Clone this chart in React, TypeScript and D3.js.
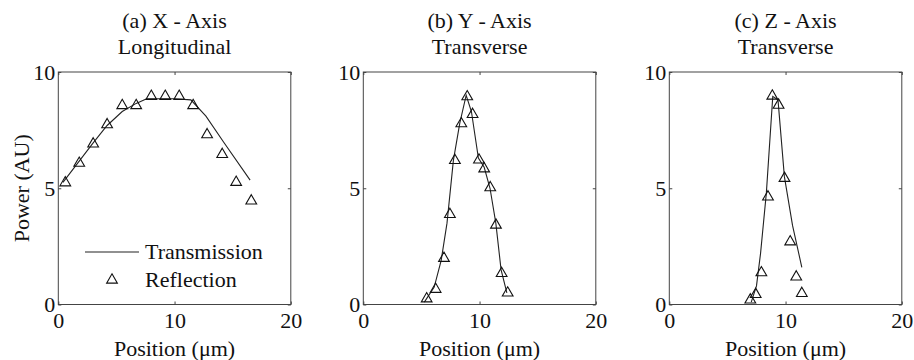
import React, { useEffect, useRef } from "react";
import * as d3 from "d3";

// reflection markers (triangles)
const reflA = [
  [0.6, 5.28], [1.8, 6.12], [3.0, 6.95], [4.2, 7.78], [5.5, 8.6], [6.7, 8.6], [8.0, 9.0],
  [9.2, 9.0], [10.4, 9.0], [11.6, 8.6], [12.8, 7.35], [14.1, 6.5], [15.3, 5.3], [16.6, 4.5],
];
const reflB = [
  [5.45, 0.29], [6.22, 0.7], [6.94, 2.03], [7.45, 3.92], [7.88, 6.24], [8.43, 7.82], [8.94, 8.98],
  [9.4, 8.22], [9.95, 6.26], [10.4, 5.88], [10.92, 5.07], [11.41, 3.46], [11.9, 1.38], [12.42, 0.54],
];
const reflC = [
  [6.97, 0.24], [7.43, 0.48], [7.92, 1.41], [8.49, 4.67], [8.86, 9.01],
  [9.4, 8.62], [9.91, 5.47], [10.4, 2.74], [10.92, 1.23], [11.4, 0.52],
];

// transmission lines
const transA = [
  [0.4, 5.25], [1.7, 6.1], [3.0, 6.95], [4.2, 7.7], [5.5, 8.3], [6.7, 8.65], [7.6, 8.85],
  [8.8, 8.85], [10.0, 8.85], [11.4, 8.8], [12.7, 8.1], [14.2, 7.0], [16.5, 5.35],
];
const transB = [
  [5.25, 0.1], [6.1, 0.75], [6.7, 1.9], [7.2, 3.5], [7.75, 6.2], [8.3, 7.8], [8.85, 9.0],
  [9.3, 8.3], [9.9, 6.3], [10.4, 5.9], [10.9, 5.0], [11.4, 3.5], [11.85, 1.5], [12.35, 0.5],
];
const transC = [
  [7.05, 0.1], [7.5, 0.8], [7.85, 2.2], [8.35, 4.8], [8.9, 8.95],
  [9.35, 8.8], [9.9, 5.5], [10.6, 3.4], [11.4, 1.6],
];

const titles = [
  ["(a) X - Axis", "Longitudinal"],
  ["(b) Y - Axis", "Transverse"],
  ["(c) Z - Axis", "Transverse"],
];
const xTicks = [0, 10, 20];
const yTicks = [0, 5, 10];
const legendLabels = ["Transmission", "Reflection"];

const FONT = "'Liberation Serif'";

export default function App() {
  const ref = useRef<SVGSVGElement>(null);

  useEffect(() => {
    const svg = d3.select(ref.current);
    svg.selectAll("*").remove();

    const panelLeft = [58.3, 363.3, 669.3];
    const w = 232.5;
    const top = 72,
      bottom = 304.5;
    const data = [
      [transA, reflA],
      [transB, reflB],
      [transC, reflC],
    ];

    const tri = d3.symbol().type(d3.symbolTriangle).size(50);

    panelLeft.forEach((left, i) => {
      const x = d3.scaleLinear().domain([0, 20]).range([left, left + w]);
      const y = d3.scaleLinear().domain([0, 10]).range([bottom, top]);
      const g = svg.append("g");

      // titles
      const cx = left + w / 2;
      g.append("text")
        .attr("x", cx)
        .attr("y", 28)
        .attr("text-anchor", "middle")
        .text(titles[i][0]);
      g.append("text")
        .attr("x", cx)
        .attr("y", 54)
        .attr("text-anchor", "middle")
        .text(titles[i][1]);

      // box
      g.append("rect")
        .attr("x", left)
        .attr("y", top)
        .attr("width", w)
        .attr("height", bottom - top)
        .attr("fill", "none")
        .attr("stroke", "#444")
        .attr("stroke-width", 1);

      const styleAxis = (a) => {
        a.attr("font-family", null).attr("font-size", null);
        a.select(".domain").remove();
        a.selectAll("line").attr("stroke", "#444");
      };

      g.append("g")
        .attr("transform", `translate(0,${bottom})`)
        .call(d3.axisBottom(x).tickValues(xTicks).tickSize(-3).tickPadding(8).tickFormat(d3.format("d")))
        .call(styleAxis);
      g.append("g")
        .attr("transform", `translate(0,${top})`)
        .call(d3.axisTop(x).tickValues(xTicks).tickSize(-3).tickFormat(() => ""))
        .call(styleAxis);
      g.append("g")
        .attr("transform", `translate(${left},0)`)
        .call(d3.axisLeft(y).tickValues(yTicks).tickSize(-3).tickPadding(3).tickFormat(d3.format("d")))
        .call(styleAxis);
      g.append("g")
        .attr("transform", `translate(${left + w},0)`)
        .call(d3.axisRight(y).tickValues(yTicks).tickSize(-3).tickFormat(() => ""))
        .call(styleAxis);

      g.append("text")
        .attr("x", cx)
        .attr("y", 356)
        .attr("text-anchor", "middle")
        .text("Position (\u03bcm)");

      const line = d3
        .line()
        .x((d) => x(d[0]))
        .y((d) => y(d[1]));

      g.append("path")
        .datum(data[i][0])
        .attr("fill", "none")
        .attr("stroke", "#222")
        .attr("stroke-width", 1.1)
        .attr("d", line);

      g.selectAll(".tri")
        .data(data[i][1])
        .enter()
        .append("path")
        .attr("d", tri)
        .attr("transform", (d) => `translate(${x(d[0])},${y(d[1]) + 1})`)
        .attr("fill", "none")
        .attr("stroke", "#111")
        .attr("stroke-width", 1.1);

      if (i === 0) {
        // y label
        g.append("text")
          .attr("transform", `translate(29,${(top + bottom) / 2}) rotate(-90)`)
          .attr("text-anchor", "middle")
          .text("Power (AU)");

        // legend
        g.append("line")
          .attr("x1", 85)
          .attr("x2", 139)
          .attr("y1", 252)
          .attr("y2", 252)
          .attr("stroke", "#222")
          .attr("stroke-width", 1.1);
        g.append("text").attr("x", 145).attr("y", 259).text(legendLabels[0]);
        g.append("path")
          .attr("d", tri)
          .attr("transform", "translate(112,280)")
          .attr("fill", "none")
          .attr("stroke", "#111")
          .attr("stroke-width", 1.1);
        g.append("text").attr("x", 145).attr("y", 287).text(legendLabels[1]);
      }
    });

    svg.selectAll("text")
      .attr("font-family", "Liberation Serif")
      .style("font-family", FONT)
      .style("font-size", "22px")
      .attr("fill", "#111");
  }, []);

  return (
    <svg
      ref={ref}
      width={914}
      height={360}
      style={{ position: "absolute", left: 0, top: 0, background: "#fff", fontFamily: FONT }}
    />
  );
}
